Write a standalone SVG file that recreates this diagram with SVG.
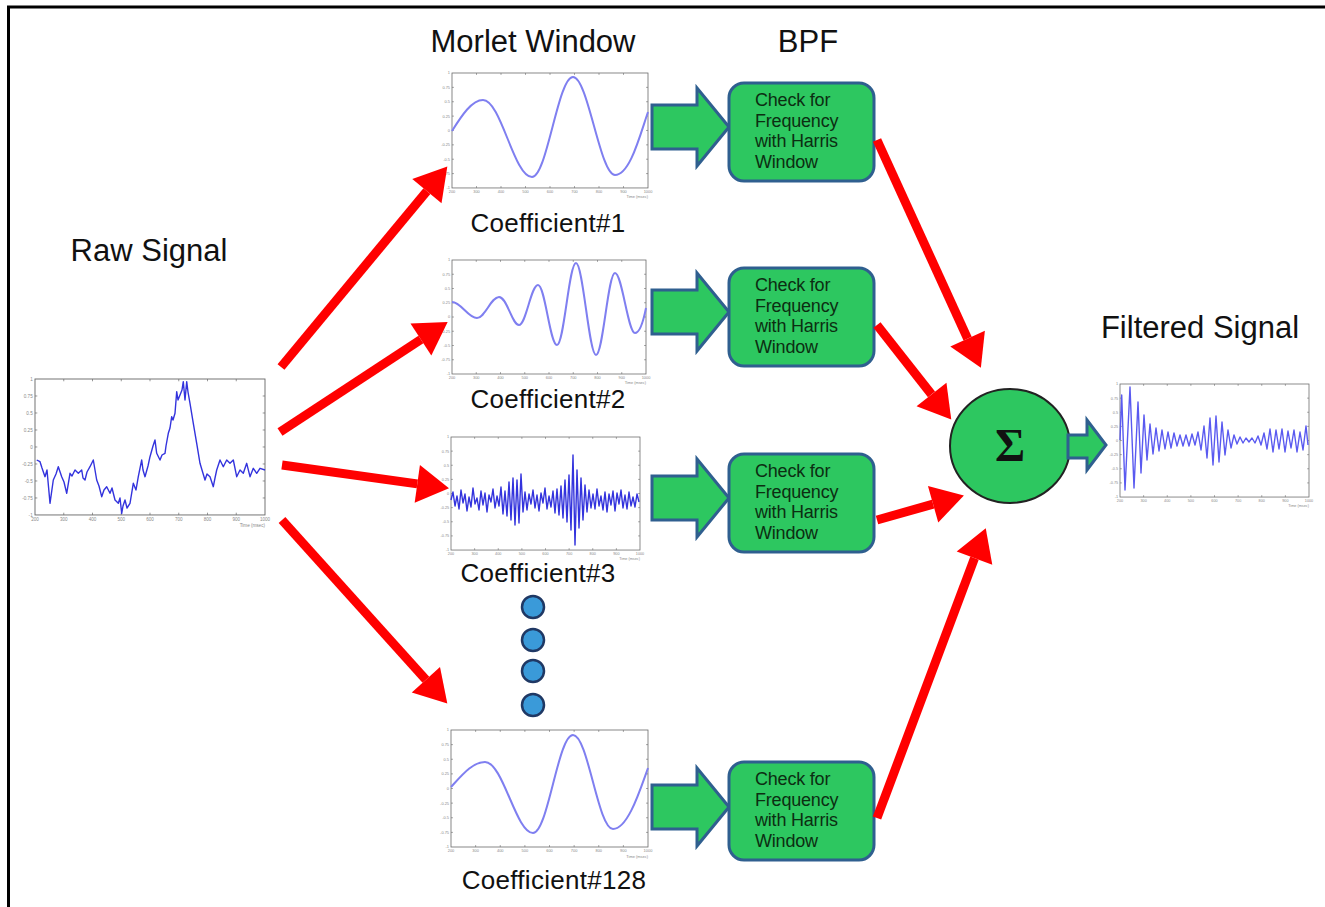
<svg xmlns="http://www.w3.org/2000/svg" xmlns:xlink="http://www.w3.org/1999/xlink" width="1325" height="907" viewBox="0 0 1325 907">
  <style>
    .title { font-family: "Liberation Sans", Arial, sans-serif; font-size: 31px; fill: #111; text-anchor: middle; }
    .coef { font-family: "Liberation Sans", Arial, sans-serif; font-size: 26px; fill: #111; text-anchor: middle; letter-spacing: 0.3px; }
    .boxtxt { font-family: "Liberation Sans", Arial, sans-serif; font-size: 18px; fill: #0c2e12; letter-spacing: -0.2px; }
    .tick { font-family: "Liberation Sans", Arial, sans-serif; font-size: 4px; fill: #888; }
    .bpf { fill: #2dc760; stroke: #2f5f8f; stroke-width: 3; }
    .garrow { fill: #2dc760; stroke: #2f5f8f; stroke-width: 3; stroke-linejoin: miter; }
    .red { stroke: #ff0000; stroke-width: 9; fill: none; marker-end: url(#redhead); }
    .morlet { fill: none; stroke: #7f7ff0; stroke-width: 2; }
    .sig { fill: none; stroke: #3333dd; stroke-width: 1.4; stroke-linejoin: round; }
    .dot { fill: #3a9ad9; stroke: #1f3864; stroke-width: 2.5; }
  </style>
  <defs>
    <marker id="redhead" markerUnits="userSpaceOnUse" markerWidth="34" markerHeight="38" refX="0" refY="19" orient="auto" overflow="visible">
      <path d="M0,0 L32,19 L0,38 z" fill="#ff0000"/>
    </marker>
    <!-- plot frame in a 200x120 unit box: ticks, tick labels, axis caption -->
    <g id="axes">
      <rect x="0" y="0" width="200" height="120" fill="#fff" stroke="#666" stroke-width="0.8"/>
      <path stroke="#666" stroke-width="0.6" d="M25,0v2M50,0v2M75,0v2M100,0v2M125,0v2M150,0v2M175,0v2M25,120v-2M50,120v-2M75,120v-2M100,120v-2M125,120v-2M150,120v-2M175,120v-2M0,15h2M0,30h2M0,45h2M0,60h2M0,75h2M0,90h2M0,105h2M200,15h-2M200,30h-2M200,45h-2M200,60h-2M200,75h-2M200,90h-2M200,105h-2"/>
      <g class="tick" text-anchor="middle">
        <text x="0" y="125">200</text><text x="25" y="125">300</text><text x="50" y="125">400</text>
        <text x="75" y="125">500</text><text x="100" y="125">600</text><text x="125" y="125">700</text>
        <text x="150" y="125">800</text><text x="175" y="125">900</text><text x="200" y="125">1000</text>
      </g>
      <g class="tick" text-anchor="end">
        <text x="-2" y="1.5">1</text><text x="-2" y="16.5">0.75</text><text x="-2" y="31.5">0.5</text>
        <text x="-2" y="46.5">0.25</text><text x="-2" y="61.5">0</text><text x="-2" y="76.5">-0.25</text>
        <text x="-2" y="91.5">-0.5</text><text x="-2" y="106.5">-0.75</text><text x="-2" y="121.5">-1</text>
        <text x="200" y="131">Time (msec)</text>
      </g>
    </g>
    <path id="blockArrow" d="M0,-22 H45 V-39 L77,0 L45,39 V22 H0 Z"/>
  </defs>

  <rect x="0" y="0" width="1325" height="907" fill="#fff"/>
  <!-- page border (top and left) -->
  <path d="M7,7 H1325 M8.5,7 V907" stroke="#000" stroke-width="3" fill="none"/>

  <!-- headings -->
  <text class="title" x="533" y="52">Morlet Window</text>
  <text class="title" x="808" y="52">BPF</text>
  <text class="title" x="149" y="261">Raw Signal</text>
  <text class="title" x="1200" y="338">Filtered Signal</text>

  <!-- raw signal -->
  <g id="raw-signal">
    <use href="#axes" transform="translate(35,379) scale(1.15,1.133)"/>
    <polyline class="sig" points="36.7,460 40,461.7 42,468 45,476.7 47,470 50,503.3 53.3,480 56,474 58.3,466.7 61.7,476.7 64,482 66.7,493.3 70,473.3 72,476 75,470 78.3,473.3 81.7,470 83,478 85,480 87,472 90,466.7 93.3,460 96.7,480 99,486 101.7,496.7 104,490 106.7,486.7 110,493.3 112,488 115,500 118.3,503.3 120,498 121.7,513.3 123,506 125,500 127,508 130,503.3 133.3,483.3 136,490 138.3,476.7 141.7,460 143,470 145,476.7 148,466 150,456.7 153,446 155,440 156.7,453.3 160,460 162,455 165,453.3 166,446 168.3,433.3 170,428 171.7,416.7 173,420 175,413.3 176.7,391.7 178,400 180,395 182,390 183.3,381.7 185,400 186.7,381.7 188,392 190,403.3 193.3,423.3 196.7,443.3 200,463.3 202,470 205,480 207,474 210,476.7 213.3,486.7 215,478 216.7,470 220,460 223.3,466.7 226.7,460 230,463.3 233.3,460 236.7,476.7 240,470 243.3,473.3 246.7,463.3 250,476.7 253.3,468.3 256.7,473.3 260,468.3 265,470"/>
  </g>

  <!-- wavelet coefficients -->
  <g id="coef-1">
    <use href="#axes" transform="translate(452,73) scale(0.98,0.958)"/>
    <path class="morlet" d="M452,131 C462,115 472,100 483,100 C501,100 514,177 532,177 C547,177 558,77 573,77 C588,77 600,175 615,175 C630,175 640,135 648,112"/>
    <text class="coef" x="548" y="232">Coefficient#1</text>
  </g>
  <g id="coef-2">
    <use href="#axes" transform="translate(452,260) scale(0.97,0.95)"/>
    <path class="morlet" d="M452,302 C461,302 468,318 477,318 C485,318 491,297 499,297 C507,297 512,325 519,325 C526,325 531,285 538,285 C545,285 550,345 557,345 C564,345 569,263 576,263 C583,263 589,355 596,355 C603,355 608,273 615,273 C622,273 628,333 635,333 C640,333 644,318 646,308"/>
    <text class="coef" x="548" y="408">Coefficient#2</text>
  </g>
  <g id="coef-3">
    <use href="#axes" transform="translate(451,437) scale(0.945,0.942)"/>
    <polyline class="sig" points="451,500 453,492 455,506 457,496 459,509 461,490 463,503 465,494 467,511 469,497 471,507 473,488 475,504 477,498 479,510 481,491 483,505 485,493 487,512 489,495 491,502 493,489 495,508 497,496 499,506 501,487 503,514 505,491 507,516 509,482 511,520 513,478 515,525 517,480 519,523 521,474 523,512 525,492 527,510 529,494 531,504 533,490 535,508 537,495 539,511 541,493 543,503 545,488 547,509 549,496 551,507 553,491 555,513 557,489 559,515 561,486 563,518 565,480 567,522 569,475 571,530 573,455 575,545 577,470 579,528 581,478 583,520 585,485 587,512 589,490 591,508 593,494 595,509 597,489 599,506 601,496 603,510 605,492 607,512 609,494 611,505 613,491 615,511 617,493 619,504 621,490 623,508 625,495 627,509 629,492 631,506 633,497 635,507 637,494 639,502"/>
    <text class="coef" x="538" y="582">Coefficient#3</text>
  </g>
  <g id="ellipsis">
    <circle class="dot" cx="533" cy="607" r="11"/>
    <circle class="dot" cx="533" cy="640" r="11"/>
    <circle class="dot" cx="533" cy="671" r="11"/>
    <circle class="dot" cx="533" cy="705" r="11"/>
  </g>
  <g id="coef-128">
    <use href="#axes" transform="translate(451,730) scale(0.985,0.975)"/>
    <path class="morlet" d="M451,787 C463,774 473,762 485,762 C503,762 516,833 533,833 C548,833 558,735 573,735 C588,735 598,829 613,829 C628,829 640,790 648,768"/>
    <text class="coef" x="554" y="889">Coefficient#128</text>
  </g>

  <!-- band-pass filter blocks -->
  <g id="bpf-1">
    <use href="#blockArrow" class="garrow" transform="translate(652,127)"/>
    <rect class="bpf" x="729" y="83" width="145" height="98" rx="15"/>
    <text class="boxtxt" x="755"><tspan x="755" y="106">Check for</tspan><tspan x="755" y="127">Frequency</tspan><tspan x="755" y="147">with Harris</tspan><tspan x="755" y="168">Window</tspan></text>
  </g>
  <g id="bpf-2">
    <use href="#blockArrow" class="garrow" transform="translate(652,312)"/>
    <rect class="bpf" x="729" y="268" width="145" height="98" rx="15"/>
    <text class="boxtxt" x="755"><tspan x="755" y="291">Check for</tspan><tspan x="755" y="312">Frequency</tspan><tspan x="755" y="332">with Harris</tspan><tspan x="755" y="353">Window</tspan></text>
  </g>
  <g id="bpf-3">
    <use href="#blockArrow" class="garrow" transform="translate(652,498)"/>
    <rect class="bpf" x="729" y="454" width="145" height="98" rx="15"/>
    <text class="boxtxt" x="755"><tspan x="755" y="477">Check for</tspan><tspan x="755" y="498">Frequency</tspan><tspan x="755" y="518">with Harris</tspan><tspan x="755" y="539">Window</tspan></text>
  </g>
  <g id="bpf-128">
    <use href="#blockArrow" class="garrow" transform="translate(652,807)"/>
    <rect class="bpf" x="729" y="762" width="145" height="98" rx="15"/>
    <text class="boxtxt" x="755"><tspan x="755" y="785">Check for</tspan><tspan x="755" y="806">Frequency</tspan><tspan x="755" y="826">with Harris</tspan><tspan x="755" y="847">Window</tspan></text>
  </g>

  <!-- summation -->
  <g id="sum">
    <ellipse cx="1010" cy="446" rx="60" ry="57" fill="#2dc760" stroke="#222" stroke-width="2"/>
    <text x="1010" y="461" text-anchor="middle" font-family="Liberation Serif, serif" font-size="46" font-weight="bold" fill="#111">Σ</text>
    <path class="garrow" d="M1068,435 H1087 V420 L1106,445 L1087,470 V458 H1068 Z"/>
  </g>

  <!-- filtered output -->
  <g id="filtered-signal">
    <use href="#axes" transform="translate(1120,384) scale(0.945,0.942)"/>
    <polyline class="sig" style="stroke:#5a5af0" points="1120,440 1121.7,395 1125,490 1130,387 1134,488 1138,402 1141,473 1144,415 1147,460 1150,424 1153,454 1156,428 1159,451 1162,430 1165,449 1168,432 1171,448 1174,433 1177,446 1180,435 1183,446 1186,435 1189,446 1192,434 1195,445 1198,432 1201,450 1204,426 1207,458 1210,418 1213,465 1216,416 1219,462 1222,422 1225,455 1228,430 1231,448 1234,435 1237,444 1240,437 1243,443 1246,438 1249,442 1252,438 1255,443 1258,436 1261,445 1264,433 1267,449 1270,429 1273,452 1276,430 1279,449 1282,429 1285,452 1288,431 1291,448 1294,430 1297,452 1300,432 1303,450 1306,426 1308,445"/>
  </g>

  <!-- connectors -->
  <g id="connectors">
    <line class="red" x1="281" y1="367" x2="426.9" y2="191.1"/>
    <line class="red" x1="280" y1="432" x2="420.9" y2="339.5"/>
    <line class="red" x1="282" y1="465" x2="417.3" y2="483.9"/>
    <line class="red" x1="282" y1="520" x2="425.9" y2="679.7"/>
    <line class="red" x1="877" y1="140" x2="967.6" y2="338.7"/>
    <line class="red" x1="877" y1="325" x2="931.5" y2="394.4"/>
    <line class="red" x1="877" y1="520" x2="933.1" y2="504.2"/>
    <line class="red" x1="877" y1="818" x2="974.5" y2="558.1"/>
  </g>
</svg>
